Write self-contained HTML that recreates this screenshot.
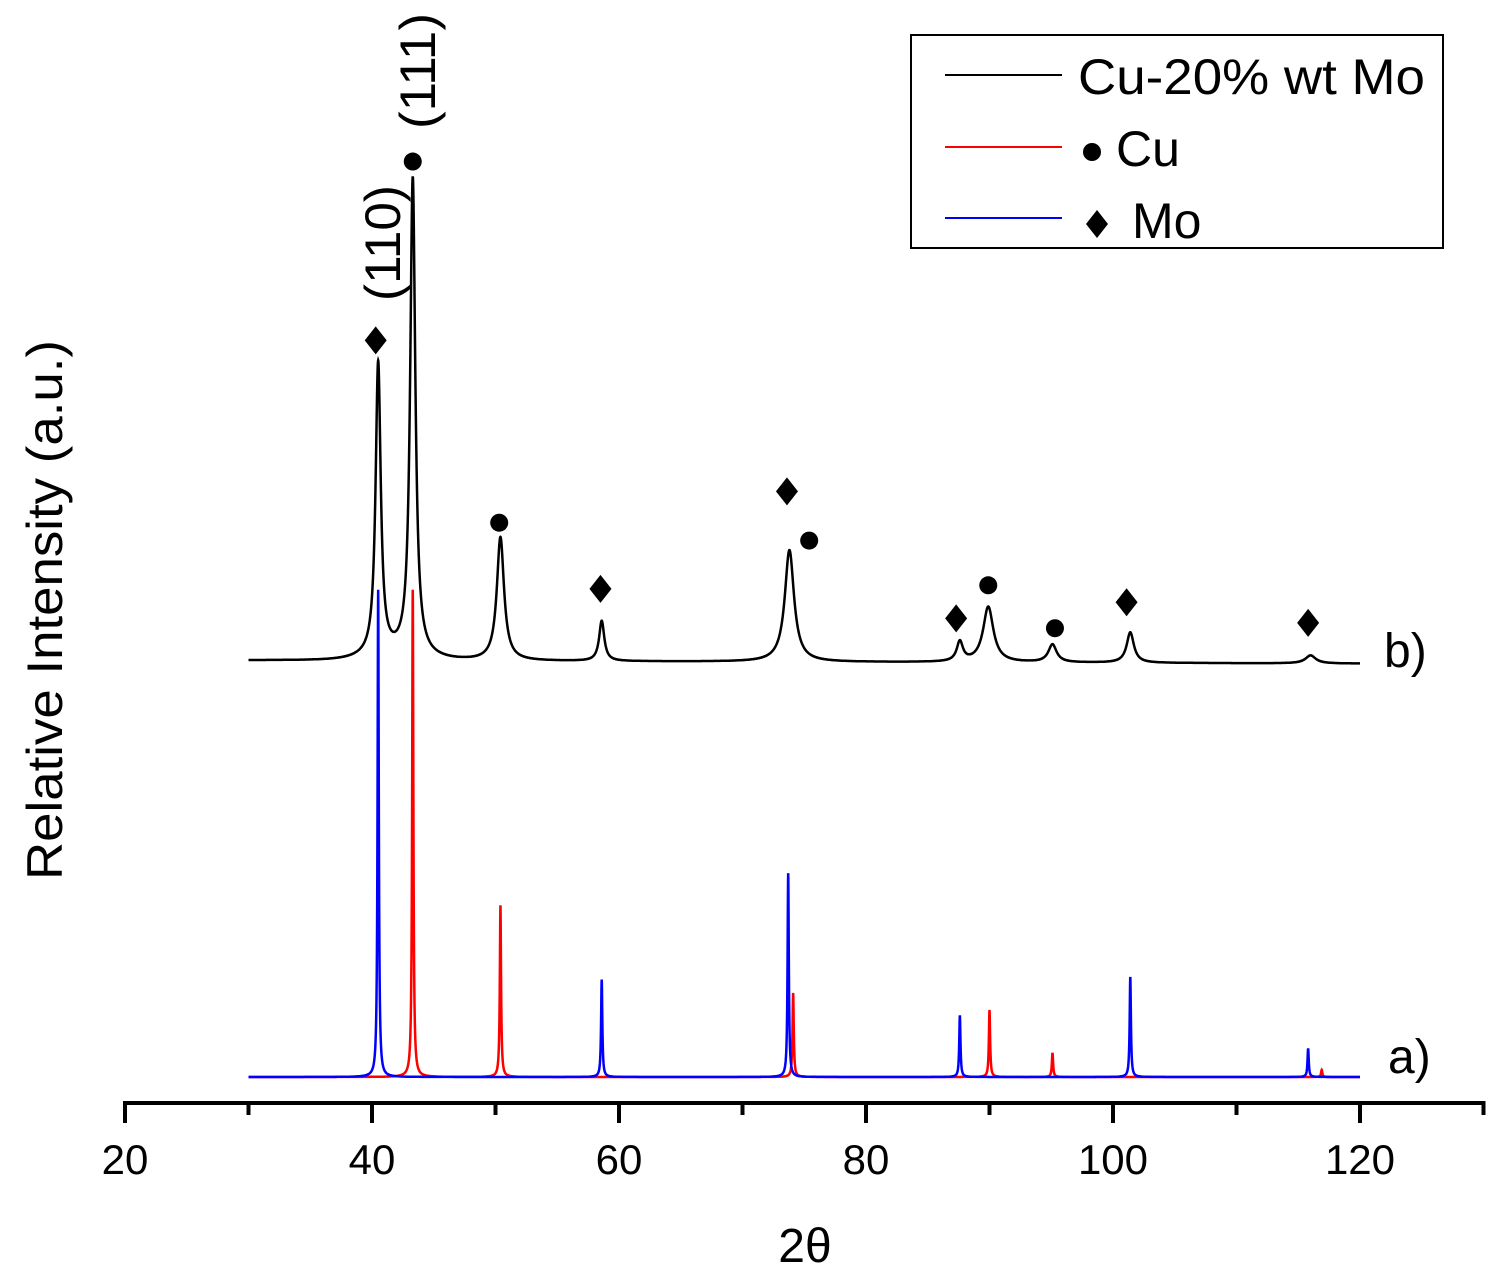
<!DOCTYPE html>
<html><head><meta charset="utf-8"><style>
html,body{margin:0;padding:0;background:#fff;}
svg{display:block;font-family:"Liberation Sans",Arial,sans-serif;}
</style></head><body>
<svg id="chart" width="1503" height="1279" viewBox="0 0 1503 1279" xmlns="http://www.w3.org/2000/svg">
<rect width="1503" height="1279" fill="#fff"/>
<g id="axis"></g>
<g id="series"></g>
<g id="marks"></g>
<text transform="translate(62,610) rotate(-90)" text-anchor="middle" font-size="50" textLength="540" lengthAdjust="spacingAndGlyphs">Relative Intensity (a.u.)</text>
<text x="805" y="1262" text-anchor="middle" font-size="48">2θ</text>
<text transform="translate(400,243) rotate(-90)" text-anchor="middle" font-size="50" textLength="116" lengthAdjust="spacingAndGlyphs">(110)</text>
<text transform="translate(435,71) rotate(-90)" text-anchor="middle" font-size="50" textLength="116" lengthAdjust="spacingAndGlyphs">(111)</text>
<text x="1384" y="667" font-size="48">b)</text>
<text x="1388" y="1073" font-size="48">a)</text>
<g>
<rect x="911" y="35" width="532" height="213" fill="#fff" stroke="#000" stroke-width="2"/>
<line x1="945" y1="75" x2="1062" y2="75" stroke="#000" stroke-width="2"/>
<text x="1078" y="94" font-size="50" textLength="347" lengthAdjust="spacingAndGlyphs">Cu-20% wt Mo</text>
<line x1="945" y1="147" x2="1062" y2="147" stroke="#f00" stroke-width="2"/>
<circle cx="1092" cy="152" r="9"/>
<text x="1116" y="166" font-size="50">Cu</text>
<line x1="945" y1="218" x2="1062" y2="218" stroke="#00f" stroke-width="2"/>
<polygon points="1097,210 1108,224 1097,238 1086,224"/>
<text x="1132" y="238" font-size="50">Mo</text>
</g>
</svg>
<script>
// data
const xTicks=[20,40,60,80,100,120];
const xMinorTicks=[30,50,70,90,110,130];
const blackOffset=46.6;
const blackPos=[40.5,43.3,50.4,58.6,73.8,87.6,89.9,95.1,101.4,116.0];
const blackH=[32.7,53.4,13.8,4.5,12.5,2.2,6.2,2.0,3.4,0.9];
const blackW=[0.5,0.5,0.7,0.5,0.9,0.6,1.0,0.8,0.7,1.0];
const redPos=[43.3,50.4,74.1,90.0,95.1,116.9];
const redH=[54.5,19.2,9.4,7.5,2.7,0.8];
const bluePos=[40.5,58.6,73.7,87.6,101.4,115.8];
const blueH=[54.5,10.9,22.8,6.9,11.2,3.2];
const diamondX=[40.3,58.5,73.6,87.3,101.1,115.8];
const diamondV=[82.4,54.6,65.5,51.3,53.1,50.8];
const circleX=[43.3,50.3,75.4,89.9,95.3];
const circleV=[102.4,62.0,60.0,55.0,50.2];

const NS="http://www.w3.org/2000/svg";
const X=v=>125+(v-20)*12.35;
const Y=v=>1077-v*8.94;
function mk(tag,attrs,parent){const e=document.createElementNS(NS,tag);for(const k in attrs)e.setAttribute(k,attrs[k]);parent.appendChild(e);return e;}
const axis=document.getElementById('axis');
const l=mk('line',{x1:X(20),y1:1103,x2:X(130),y2:1103,stroke:'#000','stroke-width':4},axis);


xTicks.forEach(t=>{
 const tk=mk('line',{x1:X(t),y1:1101,x2:X(t),y2:1123,stroke:'#000','stroke-width':4},axis);
 
 
 const tx=mk('text',{x:X(t),y:1174,'text-anchor':'middle','font-size':42},axis);
 tx.textContent=t;
 
 
});
xMinorTicks.forEach(t=>{
 const tk=mk('line',{x1:X(t),y1:1101,x2:X(t),y2:1115,stroke:'#000','stroke-width':4},axis);
 
 
});
function profile(pos,h,w,off,bg){
 const xs=[];
 for(let i=0;i<=9000;i++)xs.push(30+i*0.01);
 pos.forEach(p=>xs.push(p));
 xs.sort((a,b)=>a-b);
 let d='';
 xs.forEach(x=>{
  let v=off;
  if(bg)v+=0.6*Math.exp(-Math.pow((x-42)/3,2))-0.004*(x-30);
  for(let i=0;i<pos.length;i++){const g=(w?w[i]:0.12)/2;v+=h[i]*g*g/(Math.pow(x-pos[i],2)+g*g);}
  d+=(d?'L':'M')+X(x).toFixed(2)+','+Y(v).toFixed(1);
 });
 return d;
}
const sg=document.getElementById('series');
const pr=mk('path',{d:profile(redPos,redH,null,0,false),fill:'none',stroke:'#f00','stroke-width':2.5},sg);


const pb=mk('path',{d:profile(bluePos,blueH,null,0,false),fill:'none',stroke:'#00f','stroke-width':2.5},sg);


const pk=mk('path',{d:profile(blackPos,blackH,blackW,blackOffset,true),fill:'none',stroke:'#000','stroke-width':2.5},sg);


const mg=document.getElementById('marks');
diamondX.forEach((x,i)=>{const cx=X(x),cy=Y(diamondV[i]);
 const p=mk('polygon',{points:`${cx},${cy-14} ${cx+11},${cy} ${cx},${cy+14} ${cx-11},${cy}`},mg);
 
 });
circleX.forEach((x,i)=>{
 const c=mk('circle',{cx:X(x),cy:Y(circleV[i]),r:9},mg);
 
 });
</script>
</body></html>
